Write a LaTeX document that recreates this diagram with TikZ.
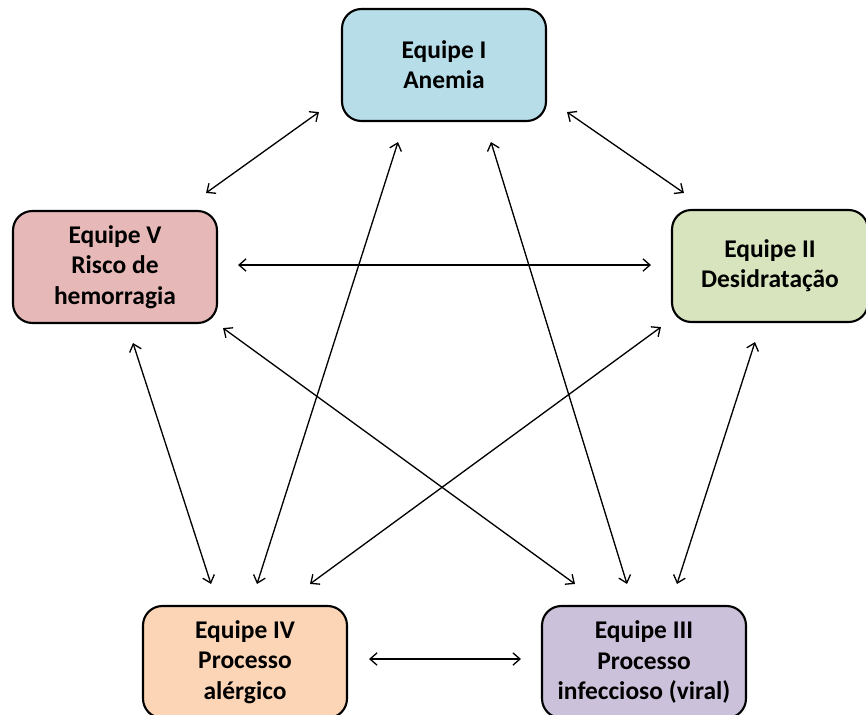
\documentclass[tikz,border=0pt]{standalone}
\usepackage{fontspec}
\setmainfont{Carlito}
\usetikzlibrary{positioning}
\usetikzlibrary{calc}
\usetikzlibrary{arrows.meta}

\definecolor{anemia}{HTML}{B7DDE8}
\definecolor{desid}{HTML}{D7E4BD}
\definecolor{infecc}{HTML}{CCC1DA}
\definecolor{alerg}{HTML}{FBD5B5}
\definecolor{hemorr}{HTML}{E6B9B8}

\tikzset{
  teambox/.style={draw, line width=1.2pt, rounded corners=11pt, minimum width=4.08cm, minimum height=2.24cm, align=center, font=\fontsize{14.5}{17.2}\selectfont\bfseries},
  link/.style={line width=0.75pt, {Straight Barb[length=4pt,width=7pt]}-{Straight Barb[length=4pt,width=7pt]}}
}

\begin{document}
\begin{tikzpicture}[x=0.02cm, y=-0.02cm]

\useasboundingbox (0, 0) rectangle (866, 714);

\node [teambox, fill=anemia] (eq1) at (444, 65) {Equipe I \\ Anemia};
\node [teambox, fill=desid, minimum width=3.92cm] (eq2) at (770, 266) {Equipe II \\ Desidratação};
\node [teambox, fill=infecc] (eq3) at (644, 662) {Equipe III \\ Processo \\ infeccioso (viral)};
\node [teambox, fill=alerg] (eq4) at (245, 662) {Equipe IV \\ Processo \\ alérgico};
\node [teambox, fill=hemorr] (eq5) at (115, 267) {Equipe V \\ Risco de \\ hemorragia};

\draw [link] ($(eq1.south west)+(-22, -10)$) -- ($(eq5.north east)+(-12, -17)$);
\draw [link] ($(eq1.south east)+(20, -10)$) -- ($(eq2.north west)+(13, -16)$);
\draw [link] ($(eq5.east)+(20, -2)$) -- ($(eq2.west)+(-20, -1)$);
\draw [link] ($(eq5.south)+(18, 19)$) -- ($(eq4.north)+(-34, -21)$);
\draw [link] ($(eq2.south)+(-15, 19)$) -- ($(eq3.north)+(33, -21)$);
\draw [link] ($(eq1.south)+(-46, 20)$) -- ($(eq4.north)+(12, -21)$);
\draw [link] ($(eq1.south)+(47, 20)$) -- ($(eq3.north)+(-17, -21)$);
\draw [link] ($(eq5.south east)+(5, 4)$) -- ($(eq3.north)+(-69, -21)$);
\draw [link] ($(eq2.south west)+(-10, 4)$) -- ($(eq4.north)+(65, -21)$);
\draw [link] ($(eq4.east)+(21, -3)$) -- ($(eq3.west)+(-20, -3)$);

\end{tikzpicture}
\end{document}
